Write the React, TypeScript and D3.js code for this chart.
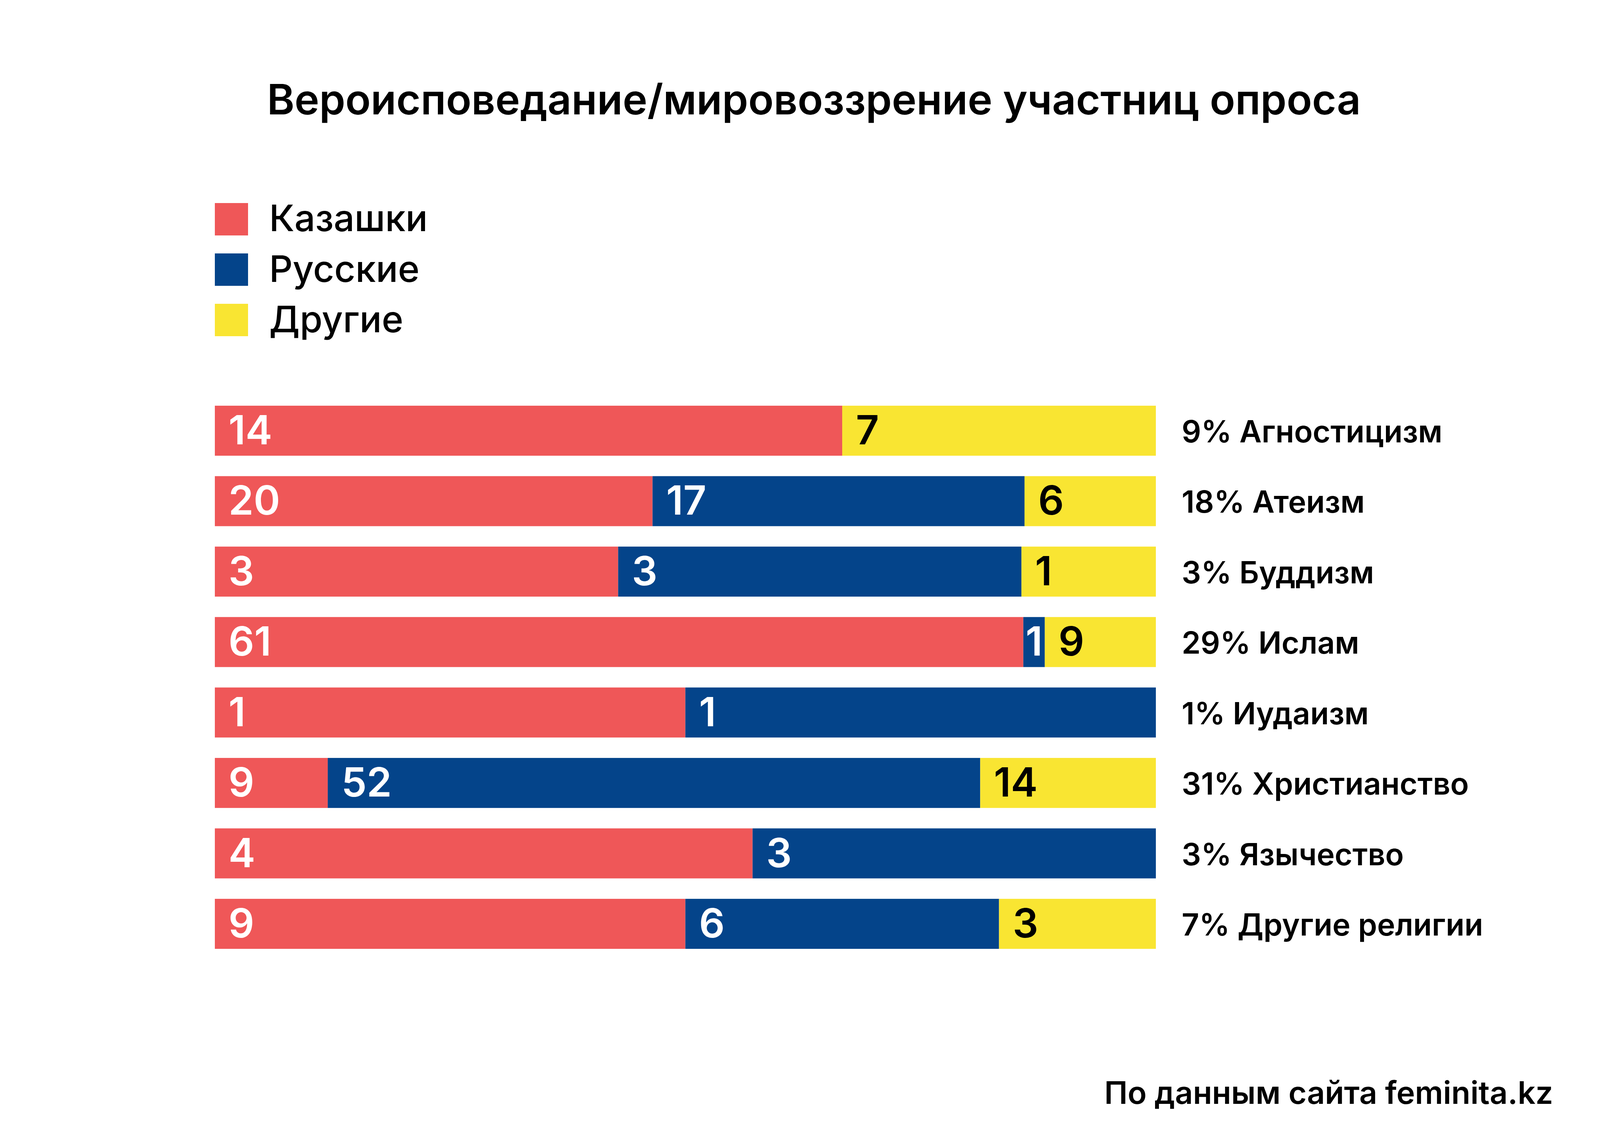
import React from "react";
import * as d3 from "d3";

const categories = [
  "Агностицизм",
  "Атеизм",
  "Буддизм",
  "Ислам",
  "Иудаизм",
  "Христианство",
  "Язычество",
  "Другие религии",
];
const shares = ["9%", "18%", "3%", "29%", "1%", "31%", "3%", "7%"];

const series = ["Казашки", "Русские", "Другие"];
const kazakh = [14, 20, 3, 61, 1, 9, 4, 9];
const russian = [0, 17, 3, 1, 1, 52, 3, 6];
const other = [7, 6, 1, 9, 0, 14, 0, 3];

const COLORS = ["#EF5758", "#04448A", "#F9E532"];
const LABEL_COLORS = ["#ffffff", "#ffffff", "#000000"];

const W = 4167;
const H = 2917;
const FONT = "Inter, 'Noto Sans', sans-serif";
const MIN_SEG = 55; // tiny segments get widened so their number fits

type Row = { name: string; [k: string]: number | string };
type Seg = { si: number; v: number; x0: number; x1: number; y0: number };

export default function App() {
  const rows: Row[] = categories.map((name, i) => ({
    name,
    [series[0]]: kazakh[i],
    [series[1]]: russian[i],
    [series[2]]: other[i],
  }));

  const stacked = d3
    .stack<Row>()
    .keys(series)
    .value((d, k) => d[k] as number)
    .offset(d3.stackOffsetExpand)(rows);

  const x = d3.scaleLinear().domain([0, 1]).range([550, 2959]);
  const y = d3
    .scaleBand<string>()
    .domain(categories)
    .range([1039, 2430])
    .paddingInner(0.29)
    .paddingOuter(0);

  const legendY = d3.scaleBand<string>().domain(series).range([520, 861]).paddingInner(0.357);

  const segments: Seg[] = [];
  categories.forEach((c, ri) => {
    let carry = -Infinity;
    stacked.forEach((layer, si) => {
      const d = layer[ri];
      const v = d.data[layer.key] as number;
      if (!v) return;
      let x0 = Math.max(x(d[0]), carry);
      let x1 = x(d[1]);
      if (x1 - x0 < MIN_SEG) x1 = x0 + MIN_SEG;
      carry = x1;
      segments.push({ si, v, x0, x1, y0: y(c) as number });
    });
  });

  return (
    <svg
      width={W}
      height={H}
      viewBox={`0 0 ${W} ${H}`}
      style={{ position: "absolute", left: 0, top: 0, background: "#fff" }}
      fontFamily={FONT}
    >
      <rect width={W} height={H} fill="#fff" />
      <text x={W / 2} y={293} textAnchor="middle" fontSize={107} fontWeight={600} fill="#000">
        Вероисповедание/мировоззрение участниц опроса
      </text>

      {series.map((s, i) => (
        <g key={s}>
          <rect x={550} y={legendY(s)} width={85} height={legendY.bandwidth()} fill={COLORS[i]} />
          <text
            x={689}
            y={(legendY(s) as number) + legendY.bandwidth() / 2 + 31}
            fontSize={94}
            fontWeight={500}
            fill="#000"
          >
            {s}
          </text>
        </g>
      ))}

      {segments.map((s, i) => (
        <rect key={"r" + i} x={s.x0} y={s.y0} width={s.x1 - s.x0} height={y.bandwidth()} fill={COLORS[s.si]} />
      ))}
      {segments.map((s, i) => {
        const narrow = s.x1 - s.x0 < 100;
        return (
          <text
            key={"t" + i}
            x={narrow ? (s.x0 + s.x1) / 2 : s.x0 + 35}
            y={s.y0 + y.bandwidth() / 2 + 35}
            textAnchor={narrow ? "middle" : "start"}
            fontSize={103}
            fontWeight={600}
            fill={LABEL_COLORS[s.si]}
          >
            {s.v}
          </text>
        );
      })}

      {categories.map((c, i) => (
        <text
          key={c}
          x={3025}
          y={(y(c) as number) + y.bandwidth() / 2 + 30}
          fontSize={78}
          fontWeight={600}
          fill="#000"
        >
          {shares[i]} {c}
        </text>
      ))}

      <text x={3976} y={2827} textAnchor="end" fontSize={80} fontWeight={600} fill="#000">
        По данным сайта feminita.kz
      </text>
    </svg>
  );
}
